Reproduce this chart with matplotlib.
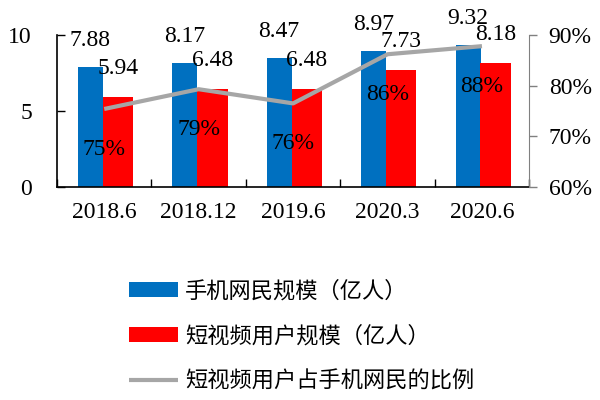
import numpy as np
import matplotlib
matplotlib.use("Agg")
import matplotlib.pyplot as plt
from matplotlib.ticker import FuncFormatter

# data
periods = ["2018.6", "2018.12", "2019.6", "2020.3", "2020.6"]
mobile_users = [7.88, 8.17, 8.47, 8.97, 9.32]
video_users = [5.94, 6.48, 6.48, 7.73, 8.18]
video_share = [0.754, 0.793, 0.765, 0.862, 0.878]
share_labels = ["75%", "79%", "76%", "86%", "88%"]

label_mobile = "手机网民规模（亿人）"
label_video = "短视频用户规模（亿人）"
label_share = "短视频用户占手机网民的比例"

blue = "#0070C0"
red = "#FF0000"
grey = "#A6A6A6"
serif = "Liberation Serif"
cjk = ["Noto Sans CJK SC", "DejaVu Sans"]
fs = 17

fig = plt.figure(figsize=(6, 4), dpi=100)
ax = fig.add_axes([0.095, 0.5325, 0.787, 0.38])
ax2 = ax.twinx()

x = np.arange(len(periods))
b1 = ax.bar(x - 0.28, mobile_users, width=0.265, align="edge", color=blue,
            label=label_mobile, zorder=2)
b2 = ax.bar(x - 0.016, video_users, width=0.322, align="edge", color=red,
            label=label_video, zorder=2)
ln, = ax2.plot(x, video_share, color=grey, lw=3, label=label_share,
               solid_capstyle="butt", zorder=3)

ax.set_xlim(-0.5, len(periods) - 0.5)
ax.set_ylim(0, 10)
ax.set_yticks([0, 5, 10])
ax2.set_ylim(0.6, 0.9)
ax2.set_yticks([0.6, 0.7, 0.8, 0.9])
ax2.yaxis.set_major_formatter(FuncFormatter(lambda v, p: f"{v*100:.0f}%"))

# category labels in the middle, tick marks on the boundaries
ax.set_xticks(np.arange(len(periods) + 1) - 0.5)
ax.set_xticklabels([])
ax.set_xticks(x, minor=True)
ax.set_xticklabels(periods, minor=True, fontfamily=serif, fontsize=fs)
ax.tick_params(axis="x", which="major", direction="in", length=6, width=1)
ax.tick_params(axis="x", which="minor", length=0, pad=11)
ax.tick_params(axis="y", direction="in", length=6, width=1, pad=18)
ax2.tick_params(axis="y", direction="out", length=6, width=1, pad=8,
                color="#808080")
for t in ax.get_yticklabels():
    t.set_fontfamily(serif)
    t.set_fontsize(fs)
for t in ax2.get_yticklabels():
    t.set_fontfamily(serif)
    t.set_fontsize(fs)

ax.spines["top"].set_visible(False)
ax2.spines["top"].set_visible(False)
ax2.spines["left"].set_visible(False)
ax.spines["right"].set_visible(False)
ax2.spines["bottom"].set_visible(False)
ax2.spines["right"].set_color("#808080")
ax.spines["left"].set_linewidth(1.2)
ax.spines["bottom"].set_linewidth(1.2)

for xi, v in zip(x, mobile_users):
    ax.annotate(f"{v:.2f}", (xi - 0.148, v), xytext=(0, 19),
                textcoords="offset points", ha="center", va="center",
                fontfamily=serif, fontsize=fs, zorder=5)
for xi, v in zip(x, video_users):
    ax.annotate(f"{v:.2f}", (xi + 0.145, v), xytext=(0, 20),
                textcoords="offset points", ha="center", va="center",
                fontfamily=serif, fontsize=fs, zorder=5)
for xi, v, s in zip(x, video_share, share_labels):
    ax2.annotate(s, (xi, v), xytext=(0, -29), textcoords="offset points",
                 ha="center", va="center", fontfamily=serif, fontsize=fs,
                 zorder=5)

fig.legend(handles=[b1, b2, ln], loc="upper left",
           bbox_to_anchor=(0.197, 0.33), frameon=False, borderpad=0,
           handlelength=2.2, handletextpad=0.3, labelspacing=1.0,
           prop={"family": cjk, "size": 16})

fig.savefig("out.png", dpi=100)
